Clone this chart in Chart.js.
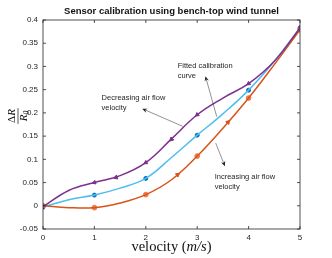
<!DOCTYPE html>
<html><head><meta charset="utf-8">
<script src="https://cdn.jsdelivr.net/npm/chart.js@4"></script>
<style>html,body{margin:0;padding:0;background:#fff}#wrap{width:332px;height:258px}</style>
</head><body><div id="wrap"><canvas id="c" width="332" height="258"></canvas></div>
<script>
// measured calibration points
const velocity = [0, 1, 2, 3, 4, 5];
const decreasing = [-0.002, 0.050, 0.093, 0.196, 0.263, 0.383];
const fitted = [-0.003, 0.023, 0.059, 0.152, 0.249, 0.383];
const increasing = [0.000, -0.004, 0.024, 0.107, 0.232, 0.379];
// smooth curves (every 0.5 m/s)
const curveX = [0, 0.5, 1, 1.5, 2, 2.5, 3, 3.5, 4, 4.5, 5];
const decreasingCurve = [-0.002, 0.033, 0.050, 0.065, 0.093, 0.144, 0.196, 0.232, 0.263, 0.311, 0.383];
const fittedCurve = [-0.003, 0.013, 0.023, 0.038, 0.059, 0.104, 0.152, 0.198, 0.249, 0.311, 0.383];
const increasingCurve = [0.000, -0.004, -0.004, 0.006, 0.024, 0.056, 0.107, 0.167, 0.232, 0.304, 0.379];
// direction arrows along the curves
const decArrowX = [1.42, 2.5];
const decArrowY = [0.061, 0.143];
const incArrowX = [2.62, 3.6];
const incArrowY = [0.067, 0.180];
const xTicks = [0, 1, 2, 3, 4, 5];
const yTicks = [-0.05, 0, 0.05, 0.1, 0.15, 0.2, 0.25, 0.3, 0.35, 0.4];
const titleText = 'Sensor calibration using bench-top wind tunnel';

const notes = [
  {lines: ['Fitted calibration', 'curve'], x: 2.62, y: 0.302, tail: [3.38, 0.192], head: [3.16, 0.279]},
  {lines: ['Decreasing air flow', 'velocity'], x: 1.14, y: 0.232, tail: [2.72, 0.171], head: [1.93, 0.209]},
  {lines: ['Increasing air flow', 'velocity'], x: 3.34, y: 0.062, tail: [3.36, 0.135], head: [3.54, 0.085]}
];

const PURPLE = '#7E2F8E', BLUE = '#4DBEEE', DBLUE = '#0072BD', ORANGE = '#D95319', LORANGE = '#F07A48';
const AX = '#262626';
const SANS = '"Liberation Sans", Arial, sans-serif';

const pts = (xs, ys) => xs.map((x, i) => ({x: x, y: ys[i]}));

const decorPlugin = {
  id: 'decor',
  afterDatasetsDraw(chart) {
    const ctx = chart.ctx, a = chart.chartArea;
    const xs = chart.scales.x, ys = chart.scales.y;
    ctx.save();
    ctx.strokeStyle = AX; ctx.lineWidth = 0.8;
    ctx.strokeRect(a.left, a.top, a.right - a.left, a.bottom - a.top);
    ctx.beginPath();
    const tl = 3;
    xTicks.forEach(v => {
      const p = xs.getPixelForValue(v);
      ctx.moveTo(p, a.bottom); ctx.lineTo(p, a.bottom - tl);
      ctx.moveTo(p, a.top); ctx.lineTo(p, a.top + tl);
    });
    yTicks.forEach(v => {
      const p = ys.getPixelForValue(v);
      ctx.moveTo(a.left, p); ctx.lineTo(a.left + tl, p);
      ctx.moveTo(a.right, p); ctx.lineTo(a.right - tl, p);
    });
    ctx.stroke();
    // annotations
    ctx.fillStyle = AX; ctx.strokeStyle = AX;
    ctx.font = '7.5px ' + SANS;
    ctx.textBaseline = 'middle'; ctx.textAlign = 'left';
    notes.forEach(n => {
      const tx = xs.getPixelForValue(n.x), ty = ys.getPixelForValue(n.y);
      n.lines.forEach((s, i) => ctx.fillText(s, tx, ty + i * 10));
      const x1 = xs.getPixelForValue(n.tail[0]), y1 = ys.getPixelForValue(n.tail[1]);
      const x2 = xs.getPixelForValue(n.head[0]), y2 = ys.getPixelForValue(n.head[1]);
      const ang = Math.atan2(y2 - y1, x2 - x1);
      const L = 5, W = 2.2;
      ctx.lineWidth = 0.5;
      ctx.beginPath(); ctx.moveTo(x1, y1);
      ctx.lineTo(x2 - L * 0.7 * Math.cos(ang), y2 - L * 0.7 * Math.sin(ang)); ctx.stroke();
      ctx.beginPath();
      ctx.moveTo(x2, y2);
      ctx.lineTo(x2 - L * Math.cos(ang) + W * Math.sin(ang), y2 - L * Math.sin(ang) - W * Math.cos(ang));
      ctx.lineTo(x2 - L * 0.7 * Math.cos(ang), y2 - L * 0.7 * Math.sin(ang));
      ctx.lineTo(x2 - L * Math.cos(ang) - W * Math.sin(ang), y2 - L * Math.sin(ang) + W * Math.cos(ang));
      ctx.closePath(); ctx.fill();
    });
    // x label
    const cx = (a.left + a.right) / 2, by = 251;
    const f1 = '14.5px "Liberation Serif", "Times New Roman", serif';
    const f2 = 'italic 14.5px "Liberation Serif", "Times New Roman", serif';
    const parts = [['velocity (', f1], ['m/s', f2], [')', f1]];
    let tw = 0;
    parts.forEach(p => { ctx.font = p[1]; tw += ctx.measureText(p[0]).width; });
    let px = cx - tw / 2;
    ctx.textBaseline = 'alphabetic'; ctx.fillStyle = '#111';
    parts.forEach(p => { ctx.font = p[1]; ctx.fillText(p[0], px, by); px += ctx.measureText(p[0]).width; });
    // y label (fraction ΔR / R0), rotated
    ctx.translate(17, 116);
    ctx.rotate(-Math.PI / 2);
    ctx.textAlign = 'left'; ctx.textBaseline = 'alphabetic';
    const fu = '11px "Liberation Serif", serif', fi = 'italic 11px "Liberation Serif", serif', fs = 'italic 7.5px "Liberation Serif", serif';
    ctx.font = fu; const wD = ctx.measureText('\u0394').width;
    ctx.font = fi; const wR = ctx.measureText('R').width;
    const wn = wD + wR;
    ctx.font = fu; ctx.fillText('\u0394', -wn / 2, -2);
    ctx.font = fi; ctx.fillText('R', -wn / 2 + wD, -2);
    ctx.font = fs; const w0 = ctx.measureText('0').width;
    const wd = wR + w0;
    ctx.font = fi; ctx.fillText('R', -wd / 2, 9.5);
    ctx.font = fs; ctx.fillText('0', -wd / 2 + wR, 11.5);
    ctx.lineWidth = 0.7; ctx.strokeStyle = '#111';
    ctx.beginPath(); ctx.moveTo(-wn / 2 - 1, 1); ctx.lineTo(wn / 2 + 1, 1); ctx.stroke();
    ctx.restore();
  }
};

const curveDs = (label, ys, color) => ({
  label: label, data: pts(curveX, ys), showLine: true, borderColor: color, borderWidth: 1.5,
  tension: 0.4, pointRadius: 0, fill: false
});
const markDs = (label, ys, color, style, radius, rot) => ({
  label: label, data: pts(velocity, ys), showLine: false, pointStyle: style, pointRadius: radius,
  pointBackgroundColor: color, pointBorderColor: color, pointBorderWidth: 1, pointRotation: rot
});

new Chart(document.getElementById('c'), {
  type: 'scatter',
  data: {
    datasets: [
      curveDs('Decreasing curve', decreasingCurve, PURPLE),
      curveDs('Increasing curve', increasingCurve, ORANGE),
      curveDs('Fitted curve', fittedCurve, BLUE),
      markDs('Decreasing', decreasing, PURPLE, 'triangle', 2.2, [270, 250, 240, 230, 235, 225]),
      markDs('Increasing', increasing, LORANGE, 'circle', 2.4, 0),
      markDs('Fitted', fitted, DBLUE, 'circle', 2, 0),
      {label: 'decA', data: pts(decArrowX, decArrowY), showLine: false, pointStyle: 'triangle', pointRadius: 2.4,
       pointBackgroundColor: PURPLE, pointBorderColor: PURPLE, pointRotation: [250, 227]},
      {label: 'incA', data: pts(incArrowX, incArrowY), showLine: false, pointStyle: 'triangle', pointRadius: 2.4,
       pointBackgroundColor: ORANGE, pointBorderColor: ORANGE, pointRotation: [53, 41]}
    ]
  },
  options: {
    responsive: false, animation: false, devicePixelRatio: 1,
    layout: {padding: {left: 0, right: 32, top: 0, bottom: 0}},
    plugins: {
      legend: {display: false}, tooltip: {enabled: false},
      title: {display: true, text: titleText, fullSize: false, color: '#111',
              font: {family: SANS, size: 9.5, weight: 'bold'},
              padding: {top: 6, bottom: 2.6}}
    },
    scales: {
      x: {type: 'linear', min: 0, max: 5,
          afterFit(s) { s.height = 29; },
          afterBuildTicks(s) { s.ticks = xTicks.map(v => ({value: v})); },
          grid: {display: false, drawTicks: false}, border: {display: false},
          ticks: {color: AX, padding: 4, font: {family: SANS, size: 8}}},
      y: {type: 'linear', min: -0.05, max: 0.4,
          afterFit(s) { s.width = 43; },
          afterBuildTicks(s) { s.ticks = yTicks.map(v => ({value: v})); },
          grid: {display: false, drawTicks: false}, border: {display: false},
          ticks: {color: AX, padding: 5, font: {family: SANS, size: 8},
                  callback: v => String(parseFloat(Number(v).toFixed(2)))}}
    }
  },
  plugins: [decorPlugin]
});
</script></body></html>
